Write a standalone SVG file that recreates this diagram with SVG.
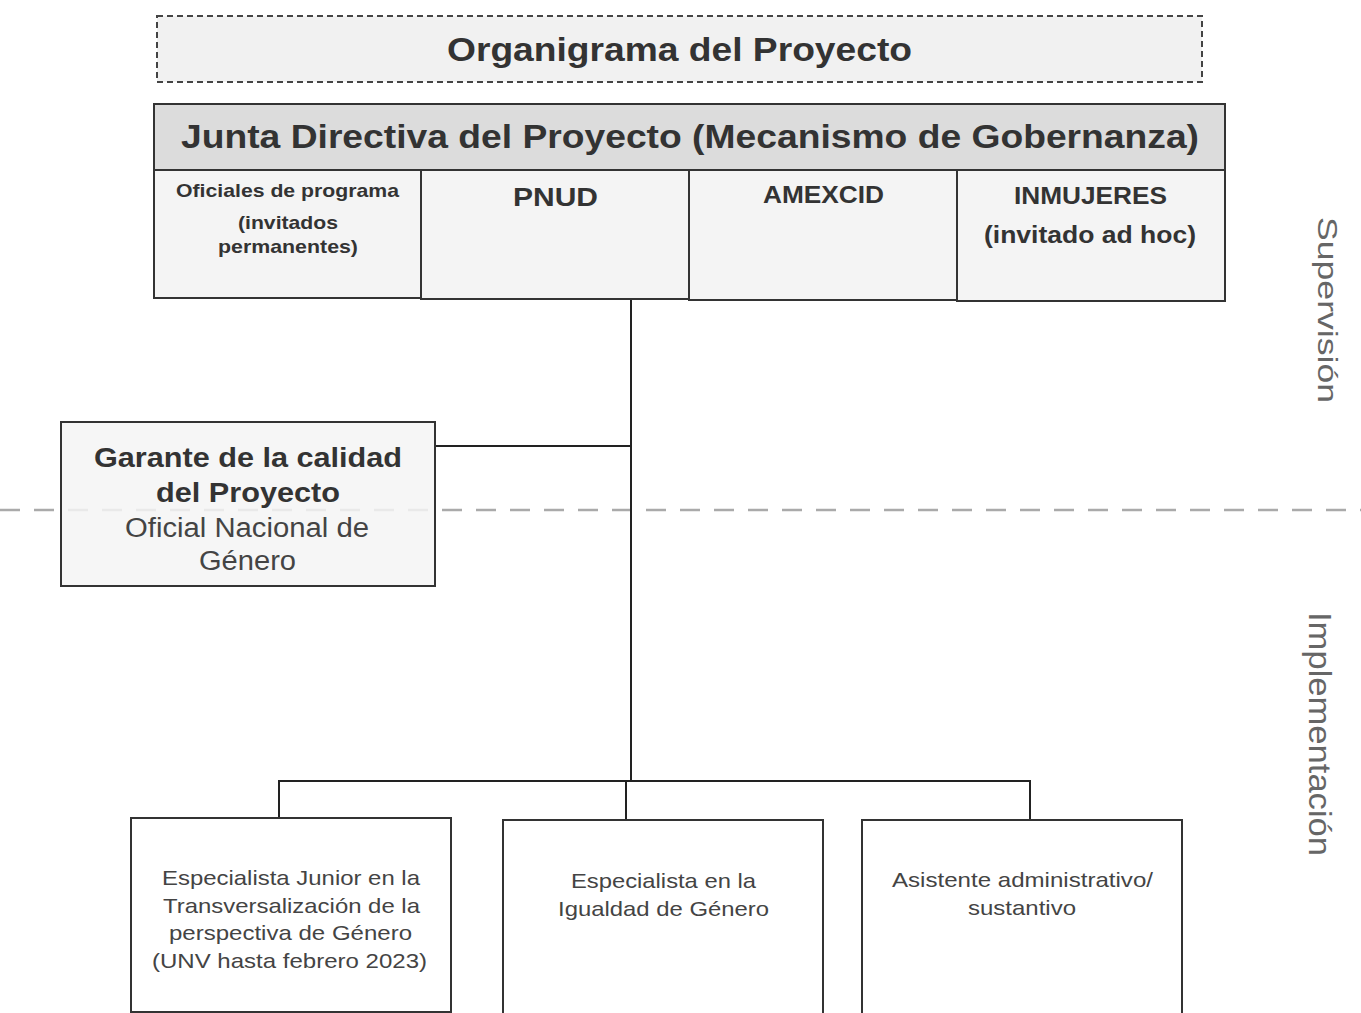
<svg xmlns="http://www.w3.org/2000/svg" width="1361" height="1013" viewBox="0 0 1361 1013">
<style>
.b{font-family:"Liberation Sans",Arial,sans-serif;font-weight:bold;fill:#333;text-anchor:middle}
.n{font-family:"Liberation Sans",Arial,sans-serif;fill:#444;text-anchor:middle}
.nn{font-family:"Liberation Sans",Arial,sans-serif;fill:#444;text-anchor:middle;font-size:21px}
.box{fill:#f4f4f4;stroke:#333;stroke-width:2}
.line{stroke:#222;stroke-width:2;fill:none}
.side{font-family:"Liberation Sans",Arial,sans-serif;fill:#666;text-anchor:middle}
</style>
<rect width="1361" height="1013" fill="#ffffff"/>
<g id="title">
<rect x="157" y="16" width="1045" height="66" fill="#f1f1f1" stroke="#444" stroke-width="2" stroke-dasharray="6,4"/>
<text class="b" x="679.5" y="61" font-size="33" textLength="465" lengthAdjust="spacingAndGlyphs">Organigrama del Proyecto</text>
</g>
<g id="junta">
<rect x="154" y="104" width="1071" height="66" fill="#dcdcdc" stroke="#333" stroke-width="2"/>
<text class="b" x="690" y="148" font-size="34" textLength="1018" lengthAdjust="spacingAndGlyphs">Junta Directiva del Proyecto (Mecanismo de Gobernanza)</text>
</g>
<g id="oficiales">
<rect class="box" x="154" y="170" width="267" height="128"/>
<text class="b" x="287.5" y="197" font-size="19" textLength="223" lengthAdjust="spacingAndGlyphs">Oficiales de programa</text>
<text class="b" x="288" y="229" font-size="19" textLength="100" lengthAdjust="spacingAndGlyphs">(invitados</text>
<text class="b" x="288" y="253" font-size="19" textLength="140" lengthAdjust="spacingAndGlyphs">permanentes)</text>
</g>
<g id="pnud">
<rect class="box" x="421" y="170" width="268" height="129"/>
<text class="b" x="555.5" y="206" font-size="26" textLength="85" lengthAdjust="spacingAndGlyphs">PNUD</text>
</g>
<g id="amexcid">
<rect class="box" x="689" y="170" width="268" height="130"/>
<text class="b" x="823.5" y="203" font-size="24" textLength="121" lengthAdjust="spacingAndGlyphs">AMEXCID</text>
</g>
<g id="inmujeres">
<rect class="box" x="957" y="170" width="268" height="131"/>
<text class="b" x="1090.5" y="204" font-size="24" textLength="153" lengthAdjust="spacingAndGlyphs">INMUJERES</text>
<text class="b" x="1090" y="243" font-size="24" textLength="212" lengthAdjust="spacingAndGlyphs">(invitado ad hoc)</text>
</g>
<line x1="0" y1="510" x2="1361" y2="510" stroke="#aaaaaa" stroke-width="2.5" stroke-dasharray="20,14"/>
<g id="connectors">
<path class="line" d="M631 300 V781"/>
<path class="line" d="M435 446 H631"/>
<path class="line" d="M279 818 V781 H1030 V822"/>
<path class="line" d="M626 781 V820"/>
</g>
<g id="garante">
<rect x="61" y="422" width="374" height="164" fill="#f4f4f4" fill-opacity="0.85" stroke="#333" stroke-width="2"/>
<text class="b" x="248" y="467" font-size="28" textLength="308" lengthAdjust="spacingAndGlyphs">Garante de la calidad</text>
<text class="b" x="248" y="502" font-size="28" textLength="184" lengthAdjust="spacingAndGlyphs">del Proyecto</text>
<text class="n" x="247" y="537" font-size="27" textLength="244" lengthAdjust="spacingAndGlyphs">Oficial Nacional de</text>
<text class="n" x="247.5" y="570" font-size="27" textLength="97" lengthAdjust="spacingAndGlyphs">Género</text>
</g>
<g id="especialista-junior">
<rect x="131" y="818" width="320" height="194" fill="#ffffff" stroke="#333" stroke-width="2"/>
<text class="nn" x="291" y="885" textLength="258" lengthAdjust="spacingAndGlyphs">Especialista Junior en la</text>
<text class="nn" x="291.5" y="913" textLength="257" lengthAdjust="spacingAndGlyphs">Transversalización de la</text>
<text class="nn" x="290.5" y="940" textLength="243" lengthAdjust="spacingAndGlyphs">perspectiva de Género</text>
<text class="nn" x="289.5" y="968" textLength="275" lengthAdjust="spacingAndGlyphs">(UNV hasta febrero 2023)</text>
</g>
<g id="especialista-igualdad">
<rect x="503" y="820" width="320" height="196" fill="#ffffff" stroke="#333" stroke-width="2"/>
<text class="nn" x="663.5" y="888" textLength="185" lengthAdjust="spacingAndGlyphs">Especialista en la</text>
<text class="nn" x="663.5" y="916" textLength="211" lengthAdjust="spacingAndGlyphs">Igualdad de Género</text>
</g>
<g id="asistente">
<rect x="862" y="820" width="320" height="196" fill="#ffffff" stroke="#333" stroke-width="2"/>
<text class="nn" x="1022.5" y="887" textLength="261" lengthAdjust="spacingAndGlyphs">Asistente administrativo/</text>
<text class="nn" x="1022" y="915" textLength="108" lengthAdjust="spacingAndGlyphs">sustantivo</text>
</g>
<g id="labels">
<text class="side" font-size="27" transform="translate(1318 310) rotate(90)" textLength="186" lengthAdjust="spacingAndGlyphs">Supervisión</text>
<text class="side" font-size="32" transform="translate(1309 734) rotate(90)" textLength="244" lengthAdjust="spacingAndGlyphs">Implementación</text>
</g>
</svg>
